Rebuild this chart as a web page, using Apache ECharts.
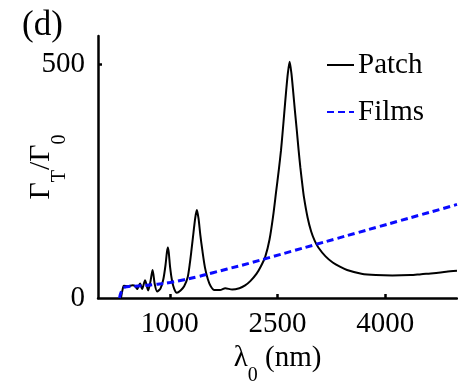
<!DOCTYPE html>
<html>
<head>
<meta charset="utf-8">
<script src="https://cdn.jsdelivr.net/npm/echarts@6/dist/echarts.min.js"></script>
<style>
  html, body { margin: 0; padding: 0; background: #fff; }
  #main { width: 458px; height: 381px; }
</style>
</head>
<body>
<div id="main"></div>
<script>
// wavelength (nm) / value pairs
const patchLambda = [320, 345, 360, 420, 480, 520, 545, 586, 614, 656, 698, 730, 760, 790, 823,
  870, 910, 940, 960, 973, 985, 1005, 1030, 1060, 1098, 1150, 1200, 1250, 1280, 1300, 1330, 1355,
  1377, 1400, 1425, 1455, 1490, 1530, 1570, 1620, 1700, 1772, 1869, 1969, 2049, 2121, 2209, 2269,
  2329, 2389, 2439, 2479, 2519, 2549, 2569, 2594, 2619, 2644, 2669, 2694, 2719, 2744, 2769, 2794,
  2819, 2844, 2869, 2919, 2969, 3019, 3069, 3169, 3269, 3369, 3469, 3669, 3869, 4100, 4353,
  4500, 4674, 4850, 5000]
const patchValue = [0, 20, 26, 25, 27, 25, 19, 31, 19, 38, 16, 35, 60, 30, 14,
  20, 40, 70, 98, 108, 98, 65, 38, 20, 11, 16, 25, 45, 75, 100, 140, 172,
  188, 170, 135, 100, 65, 40, 25, 17, 17, 21, 18, 21, 27, 36, 52, 68,
  88, 125, 175, 225, 275, 316, 350, 395, 440, 480, 505, 480, 440, 398, 358, 316,
  278, 245, 215, 172, 142, 122, 108, 89, 76, 67, 60, 52, 49, 48, 49,
  51, 53, 56, 58]

const filmsLambda = [300, 340, 400, 600, 800, 1000, 1200, 1400, 1600, 1800, 2100, 2400, 2700,
  3000, 3300, 3600, 3900, 4200, 4500, 4800, 5000]
const filmsValue = [0, 18, 24, 26, 29, 33, 39, 46, 54, 62, 74, 87, 100,
  113, 126, 139, 152, 165, 178, 191, 200]

const xTicks = [1000, 2500, 4000]
const yTicks = [0, 500]

const serif = 'Liberation Serif'

var chartDom = document.getElementById('main');
var myChart = echarts.init(chartDom);
var option;

option = {
  animation: false,
  title: {
    text: '(d)',
    left: 22,
    top: 8,
    padding: 0,
    textStyle: { fontFamily: serif, fontWeight: 'normal', fontSize: 35, color: '#000' }
  },
  grid: { left: 98, right: 1, top: 36, bottom: 83, outerBoundsMode: 'none' },
  legend: {
    orient: 'vertical',
    left: 326,
    top: 50,
    padding: 0,
    itemWidth: 27,
    itemHeight: 14,
    itemGap: 17,
    itemStyle: { opacity: 0 },
    textStyle: { fontFamily: serif, fontSize: 29, color: '#000', lineHeight: 30, padding: [0, 0, 0, -1] },
    data: ['Patch', 'Films']
  },
  xAxis: {
    type: 'value',
    min: 0,
    max: 5000,
    name: '{a|λ}{s|0}{a| (nm)}',
    nameLocation: 'middle',
    nameGap: 45,
    nameTextStyle: {
      rich: {
        a: { fontFamily: serif, fontSize: 29, color: '#000', lineHeight: 30, verticalAlign: 'top' },
        s: { fontFamily: serif, fontSize: 20, color: '#000', lineHeight: 42, verticalAlign: 'bottom' }
      }
    },
    axisLine: { lineStyle: { color: '#000', width: 2.5 } },
    axisTick: { inside: true, length: 4, lineStyle: { color: '#000', width: 2.5 }, customValues: xTicks },
    axisLabel: {
      fontFamily: serif, fontSize: 29, color: '#000', margin: 12, customValues: xTicks,
      formatter: v => String(v)
    },
    splitLine: { show: false }
  },
  yAxis: {
    type: 'value',
    min: 0,
    max: 560,
    name: '{a|Γ}{s|T}{a|/Γ}{s|0}',
    nameLocation: 'middle',
    nameRotate: 90,
    nameGap: 28,
    nameMoveOverlap: false,
    nameTextStyle: {
      rich: {
        a: { fontFamily: serif, fontSize: 30, color: '#000', lineHeight: 30, verticalAlign: 'top' },
        s: { fontFamily: serif, fontSize: 20, color: '#000', lineHeight: 44, verticalAlign: 'bottom' }
      }
    },
    axisLine: { show: true, lineStyle: { color: '#000', width: 2.5 } },
    axisTick: { show: true, inside: true, length: 4, lineStyle: { color: '#000', width: 2.5 }, customValues: [500] },
    axisLabel: {
      fontFamily: serif, fontSize: 29, color: '#000', margin: 13, customValues: yTicks,
      formatter: v => String(v)
    },
    splitLine: { show: false }
  },
  series: [
    {
      name: 'Patch',
      type: 'line',
      symbol: 'none',
      smooth: 0.25,
      lineStyle: { color: '#000', width: 2 },
      itemStyle: { color: '#000' },
      data: patchLambda.map((x, i) => [x, patchValue[i]])
    },
    {
      name: 'Films',
      type: 'line',
      symbol: 'none',
      smooth: true,
      lineStyle: { color: '#0a0aff', width: 3, type: [7, 4] },
      itemStyle: { color: '#0a0aff' },
      data: filmsLambda.map((x, i) => [x, filmsValue[i]])
    }
  ]
};

option && myChart.setOption(option);
</script>
</body>
</html>
